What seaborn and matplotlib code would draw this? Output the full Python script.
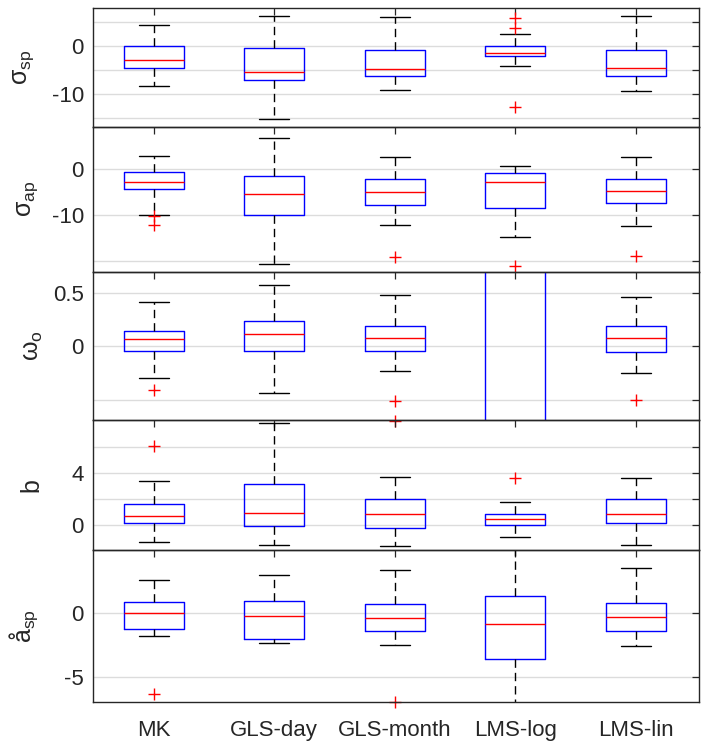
import matplotlib
matplotlib.use("Agg")
import matplotlib.pyplot as plt
import seaborn as sns
import numpy as np

# categories on the x axis
methods = ["MK", "GLS-day", "GLS-month", "LMS-log", "LMS-lin"]

# per panel: (lower whisker, q1, median, q3, upper whisker) for each method
sig_sp = [(-8.3, -4.6, -2.9, 0.0, 4.4),
          (-15.2, -7.1, -5.4, -0.4, 6.3),
          (-9.2, -6.25, -4.8, -0.85, 6.05),
          (-4.2, -2.1, -1.45, 0.0, 2.5),
          (-9.4, -6.25, -4.6, -0.85, 6.3)]
sig_sp_out = [[], [], [], [5.8, 3.7, -12.6], []]

sig_ap = [(-10.0, -4.35, -2.85, -0.5, 2.85),
          (-20.6, -10.0, -5.4, -1.5, 6.8),
          (-12.0, -7.8, -5.0, -2.15, 2.6),
          (-14.8, -8.5, -2.85, -0.9, 0.65),
          (-12.4, -7.3, -4.8, -2.15, 2.6)]
sig_ap_out = [[-10.2, -12.0], [], [-19.1], [-21.1], [-18.8]]

omega_o = [(-0.30, -0.047, 0.066, 0.14, 0.41),
           (-0.44, -0.047, 0.112, 0.234, 0.57),
           (-0.234, -0.047, 0.075, 0.188, 0.478),
           (-2.5, -1.2, -0.9, 1.0, 2.4),
           (-0.25, -0.056, 0.074, 0.19, 0.463)]
omega_o_out = [[-0.405], [], [-0.51, -0.70], [], [-0.50]]

b_vals = [(-1.31, 0.15, 0.69, 1.59, 3.38),
          (-1.54, -0.08, 0.92, 3.15, 7.85),
          (-1.62, -0.23, 0.85, 2.0, 3.69),
          (-0.92, 0.0, 0.46, 0.85, 1.77),
          (-1.54, 0.15, 0.85, 2.0, 3.62)]
b_out = [[6.05], [], [], [3.64], []]

a_sp = [(-1.82, -1.28, 0.0, 0.83, 2.55),
        (-2.34, -2.03, -0.26, 0.91, 2.97),
        (-2.53, -1.41, -0.42, 0.68, 3.33),
        (-9.0, -3.59, -0.89, 1.30, 6.5),
        (-2.60, -1.41, -0.34, 0.78, 3.49)]
a_sp_out = [[-6.35], [], [-6.98], [], []]

panel_labels = [r"$\sigma_{\rm sp}$", r"$\sigma_{\rm ap}$", r"$\omega_{\rm o}$",
                "b", r"å$_{\rm sp}$"]
panel_ylims = [(-16.8, 7.9), (-22.2, 9.2), (-0.69, 0.70), (-1.92, 8.08), (-6.98, 4.9)]
panel_yticks = [[-15, -10, -5, 0, 5], [-20, -10, 0], [-0.5, 0, 0.5], [0, 2, 4, 6], [-5, 0]]
panel_yticklabels = [["", "-10", "", "0", ""], ["", "-10", "0"], ["", "0", "0.5"],
                     ["0", "", "4", ""], ["-5", "0"]]
panel_data = [(sig_sp, sig_sp_out), (sig_ap, sig_ap_out), (omega_o, omega_o_out),
              (b_vals, b_out), (a_sp, a_sp_out)]

# pixel bounds of each panel (top, bottom) in a 701x748 figure
panel_px = [(8.3, 127), (127, 271.5), (271.5, 420), (420, 550), (550, 702)]
label_x = [-0.095, -0.088, -0.080, -0.082, -0.088]

sns.set_theme(style="white")
plt.rcParams["font.family"] = ["Liberation Sans", "DejaVu Sans"]
plt.rcParams["mathtext.fontset"] = "custom"
plt.rcParams["mathtext.rm"] = "Liberation Sans"
plt.rcParams["mathtext.it"] = "Liberation Sans"
plt.rcParams["mathtext.bf"] = "Liberation Sans"

W, H = 701, 748
fig = plt.figure(figsize=(W / 100, H / 100), dpi=100)
fig.patch.set_facecolor("white")

left, right = 93.5, 698.5
dark = "#262626"
positions = np.arange(1, len(methods) + 1)

for i, ((rows, outs), (top, bot)) in enumerate(zip(panel_data, panel_px)):
    ax = fig.add_axes([left / W, 1 - bot / H, (right - left) / W, (bot - top) / H])
    ax.set_facecolor("none")

    stats = []
    for (lo, q1, med, q3, hi), fl in zip(rows, outs):
        stats.append(dict(whislo=lo, q1=q1, med=med, q3=q3, whishi=hi, fliers=fl))

    art = ax.bxp(stats, positions=positions, widths=0.5, capwidths=0.25,
                 manage_ticks=False, showfliers=True,
                 boxprops=dict(color="blue", lw=1.0),
                 medianprops=dict(color="red", lw=1.0),
                 whiskerprops=dict(color="black", lw=1.0, linestyle=(0, (6.0, 3.6))),
                 capprops=dict(color="black", lw=1.0),
                 flierprops=dict(marker="+", markeredgecolor="red", markersize=9,
                                 markeredgewidth=1.0, linestyle="none"))
    for fl in art["fliers"]:
        fl.set_clip_on(False)

    ax.set_xlim(0.5, 5.52)
    ax.set_ylim(*panel_ylims[i])
    ax.set_yticks(panel_yticks[i])
    ax.set_yticklabels(panel_yticklabels[i])
    ax.set_xticks(positions)
    if i == len(panel_data) - 1:
        ax.set_xticklabels(methods)
    else:
        ax.set_xticklabels([])

    ax.yaxis.grid(True, color="#dcdcdc", lw=1.0)
    ax.xaxis.grid(False)
    ax.set_axisbelow(True)

    ax.tick_params(axis="both", direction="in", top=True, right=True, length=5,
                   width=0.9, color=dark, labelcolor=dark, labelsize=16)
    ax.tick_params(axis="y", pad=7)
    ax.tick_params(axis="x", pad=13)
    for s in ax.spines.values():
        s.set_visible(True)
        s.set_color(dark)
        s.set_linewidth(1.0)

    ax.set_ylabel(panel_labels[i], fontsize=18, color=dark)
    ax.yaxis.set_label_coords(label_x[i], 0.5)

fig.savefig("out.png", dpi=100, facecolor="white")
